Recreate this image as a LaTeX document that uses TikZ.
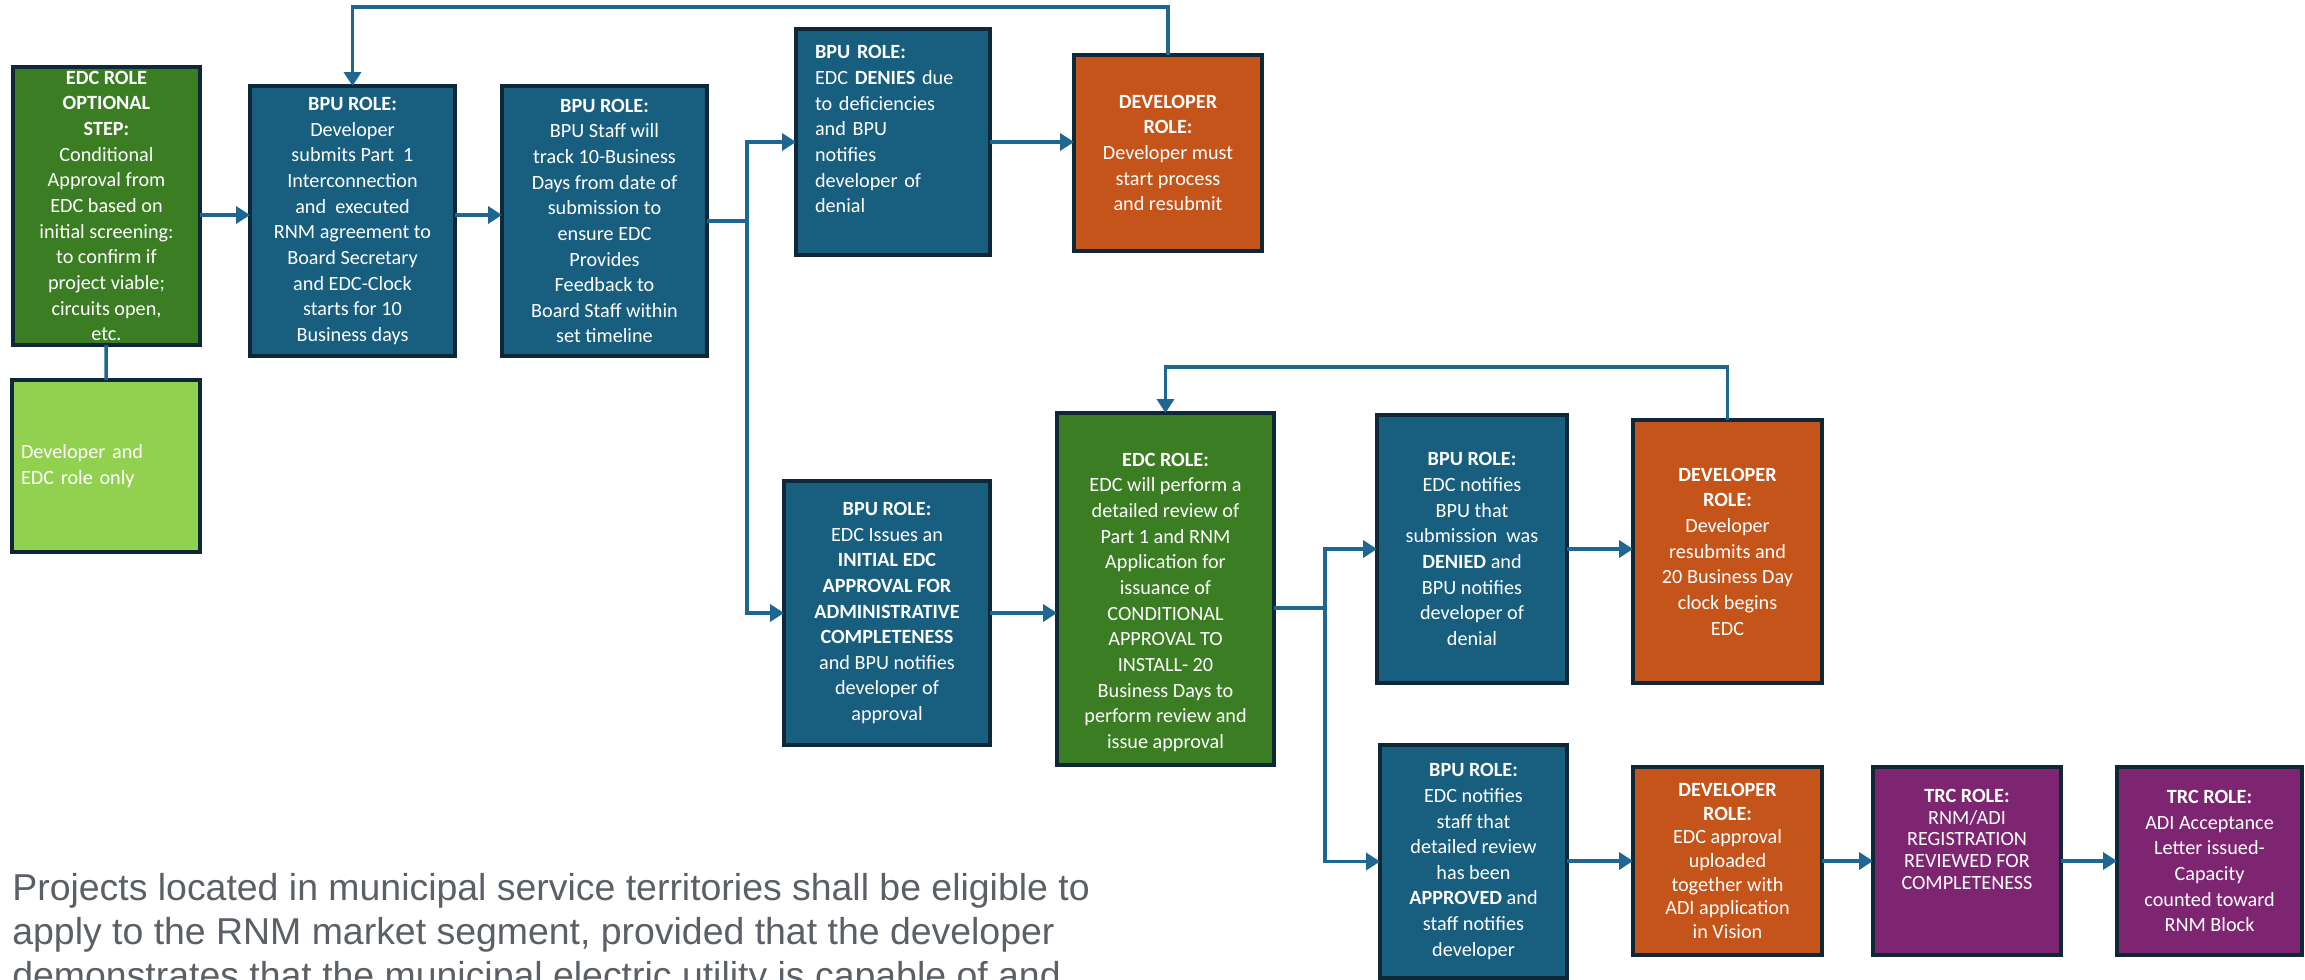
\documentclass[tikz,border=0pt]{standalone}
\usepackage{fontspec}
\setmainfont{Carlito}
\newfontfamily\notefont{Liberation Sans}
\usepackage{tikz}
\usetikzlibrary{positioning}
\usetikzlibrary{arrows.meta}

\definecolor{bpublue}{HTML}{175E7F}
\definecolor{edcgreen}{HTML}{3B7D23}
\definecolor{lightgreen}{HTML}{92D050}
\definecolor{devorange}{HTML}{C4541A}
\definecolor{trcpurple}{HTML}{7D2570}
\definecolor{rolebord}{HTML}{0F2838}
\definecolor{linkblue}{HTML}{1F6790}
\definecolor{notegray}{HTML}{5B5F66}

\begin{document}
\begin{tikzpicture}[
        x = 0.02cm, y = -0.02cm,
        role/.style = {
            draw = rolebord,
            fill = #1,
            line width = 0.08cm,
            text = white,
            align = center,
            inner sep = 0pt,
            outer sep = 0pt,
            font = \fontsize{11.5}{14.6}\selectfont
        },
        role/.default = bpublue,
        link/.style = {line width = 0.07cm, draw = linkblue},
        arr/.style = {link, -{Triangle[length=0.28cm, width=0.34cm]}}
        ]
        \useasboundingbox (0,0) rectangle (2305,980);
        \clip (0,0) rectangle (2305,980);
%
        \node[role=edcgreen, minimum width=3.74cm, minimum height=5.56cm] (A) at (106.5,206)
            {\textbf{EDC ROLE}\\ \textbf{OPTIONAL}\\ \textbf{STEP:}\\ Conditional\\ Approval from\\ EDC based on\\
             initial screening:\\ to confirm if\\ project viable;\\ circuits open,\\ etc.};
        \node[role=lightgreen, minimum width=3.76cm, minimum height=3.44cm, align=left, text width=3.4cm] (A2) at (106,466)
            {Developer and\\ EDC role only};
%
        \node[role, minimum width=4.1cm, minimum height=5.4cm] (B) at (352.5,221)
            {\textbf{BPU ROLE:}\\ Developer\\ submits Part~ 1\\ Interconnection\\ and~ executed\\ RNM agreement to\\
             Board Secretary\\ and EDC-Clock\\ starts for 10\\ Business days};
        \node[role, minimum width=4.1cm, minimum height=5.4cm] (C) at (604.5,221)
            {\textbf{BPU ROLE:}\\ BPU Staff will\\ track 10-Business\\ Days from date of\\ submission to\\ ensure EDC\\
             Provides\\ Feedback to\\ Board Staff within\\ set timeline};
%
        \node[role, minimum width=3.88cm, minimum height=4.52cm, align=left, text width=3.12cm] (D) at (893,142)
            {\textbf{BPU ROLE:}\\ EDC \textbf{DENIES} due\\ to deficiencies\\ and BPU\\ notifies\\ developer of\\ denial\\ ~};
        \node[role=devorange, minimum width=3.76cm, minimum height=3.92cm] (F) at (1168,153)
            {\textbf{DEVELOPER}\\ \textbf{ROLE:}\\ Developer must\\ start process\\ and resubmit};
%
        \node[role, minimum width=4.12cm, minimum height=5.28cm] (E) at (887,613)
            {\textbf{BPU ROLE:}\\ EDC Issues an\\ \textbf{INITIAL EDC}\\ \textbf{APPROVAL FOR}\\ \textbf{ADMINISTRATIVE}\\
             \textbf{COMPLETENESS}\\ and BPU notifies\\ developer of\\ approval};
        \node[role=edcgreen, minimum width=4.34cm, minimum height=7.04cm] (G) at (1165.5,589)
            {~\\[8pt] \textbf{EDC ROLE:}\\ EDC will perform a\\ detailed review of\\ Part 1 and RNM\\ Application for\\ issuance of\\
             CONDITIONAL\\ APPROVAL TO\\ INSTALL- 20\\ Business Days to\\ perform review and\\ issue approval};
%
        \node[role, minimum width=3.8cm, minimum height=5.36cm] (H) at (1472,549)
            {\textbf{BPU ROLE:}\\ EDC notifies\\ BPU that\\ submission~ was\\ \textbf{DENIED} and\\ BPU notifies\\ developer of\\ denial};
        \node[role=devorange, minimum width=3.78cm, minimum height=5.26cm] (I) at (1727.5,551.5)
            {\textbf{DEVELOPER}\\ \textbf{ROLE:}\\ Developer\\ resubmits and\\ 20 Business Day\\ clock begins\\ EDC};
%
        \node[role, minimum width=3.74cm, minimum height=4.66cm] (J) at (1473.5,861.5)
            {\textbf{BPU ROLE:}\\ EDC notifies\\ staff that\\ detailed review\\ has been\\ \textbf{APPROVED} and\\ staff notifies\\ developer};
        \node[role=devorange, minimum width=3.78cm, minimum height=3.76cm, font=\fontsize{11.5}{13.5}\selectfont] (K) at (1727.5,861)
            {\textbf{DEVELOPER}\\ \textbf{ROLE:}\\ EDC approval\\ uploaded\\ together with\\ ADI application\\ in Vision};
        \node[role=trcpurple, minimum width=3.76cm, minimum height=3.76cm, font=\fontsize{11.5}{12.4}\selectfont] (L) at (1967,861)
            {\textbf{TRC ROLE:}\\ RNM/ADI\\ REGISTRATION\\ REVIEWED FOR\\ COMPLETENESS\\ ~\\ ~};
        \node[role=trcpurple, minimum width=3.7cm, minimum height=3.76cm] (M) at (2209.5,861)
            {\textbf{TRC ROLE:}\\ ADI Acceptance\\ Letter issued-\\ Capacity\\ counted toward\\ RNM Block};
%
        \node[anchor=north west, align=left, inner sep=0pt, text=notegray,
              font=\notefont\fontsize{21.3}{25}\selectfont] (note) at (12,873)
            {Projects located in municipal service territories shall be eligible to\\
             apply to the RNM market segment, provided that the developer\\
             demonstrates that the municipal electric utility is capable of and};
%
% top row
        \draw[link] (A) -- (A2);
        \draw[arr] (A.east |- 0,215) -- (B.west |- 0,215);
        \draw[arr] (B.east |- 0,215) -- (C.west |- 0,215);
        \coordinate (split1) at (747,221);
        \draw[link] (C.east |- split1) -- (split1);
        \draw[arr] (split1) |- (D.west);
        \draw[arr] (split1) |- (E.west);
        \draw[arr] (D.east) -- (F.west |- D.east);
        \draw[arr] (F.north) -- (F.north |- 0,7) -| (B.north);
%
% lower rows
        \draw[arr] (E.east) -- (G.west |- E.east);
        \coordinate (split2) at (1325,608);
        \draw[link] (G.east |- split2) -- (split2);
        \draw[arr] (split2) |- (H.west);
        \draw[arr] (split2) |- (J.west);
        \draw[arr] (H.east) -- (I.west |- H.east);
        \draw[arr] (I.north) -- (I.north |- 0,367) -| (G.north);
        \draw[arr] (J.east |- K.west) -- (K.west);
        \draw[arr] (K) -- (L);
        \draw[arr] (L) -- (M);
    \end{tikzpicture}
\end{document}
